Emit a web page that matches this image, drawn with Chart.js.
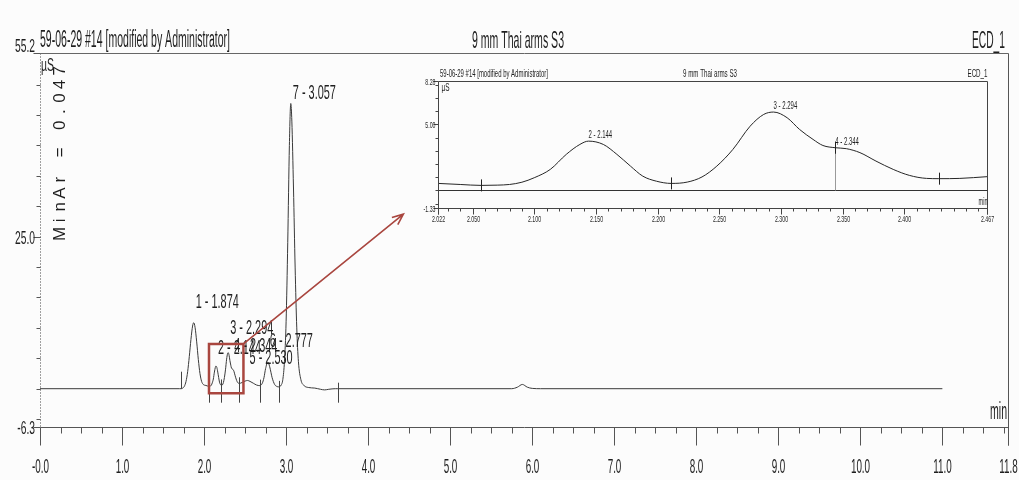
<!DOCTYPE html>
<html>
<head>
<meta charset="utf-8">
<script src="https://cdn.jsdelivr.net/npm/chart.js@4.4.1/dist/chart.umd.min.js"></script>
<style>
  html, body { margin: 0; padding: 0; background: #fcfcfc; }
  #wrap { position: relative; width: 1019px; height: 480px; overflow: hidden; }
  #overview { position: absolute; left: 0; top: 0; }
  #detail { position: absolute; left: 400px; top: 58px; }
</style>
</head>
<body>
<div id="wrap">
  <canvas id="overview" width="1019" height="480"></canvas>
  <canvas id="detail" width="610" height="172"></canvas>
</div>
<script>
// ---- chromatogram trace (retention time in min, conductivity in µS) ----
const retentionTime = [
  0.00, 1.70, 1.72, 1.74, 1.76, 1.78, 1.80, 1.82, 1.84, 1.86, 1.874, 1.89, 1.91, 1.93, 1.95, 1.97, 1.99, 2.005,
  2.022, 2.040, 2.057, 2.070, 2.080, 2.090, 2.100, 2.113, 2.126, 2.137, 2.144, 2.156, 2.167, 2.178, 2.188, 2.199,
  2.211, 2.224, 2.236, 2.248, 2.261, 2.275, 2.286, 2.294, 2.305, 2.315, 2.326, 2.334, 2.344, 2.353, 2.364, 2.377,
  2.391, 2.404, 2.418, 2.428, 2.445, 2.467, 2.50, 2.530, 2.56, 2.60, 2.64, 2.68, 2.71, 2.73, 2.75, 2.777, 2.80,
  2.83, 2.86, 2.89, 2.91, 2.94, 2.96, 2.98, 3.00, 3.02, 3.04, 3.057, 3.07, 3.09, 3.11, 3.13, 3.15, 3.18, 3.22,
  3.27, 3.35, 3.42, 3.47, 3.52, 3.60, 3.63, 5.75, 5.82, 5.88, 5.94, 6.00, 6.10, 11.0
];
const signal = [
  0.00, 0.00, 0.00, 0.10, 0.40, 1.20, 2.80, 5.30, 8.10, 10.3, 10.85, 10.1, 7.70, 4.80, 2.50, 1.20, 0.70, 0.58,
  0.53, 0.45, 0.38, 0.40, 0.45, 0.62, 0.96, 1.59, 2.73, 3.48, 3.73, 3.48, 2.73, 1.84, 1.08, 0.70,
  0.53, 0.63, 1.02, 1.84, 3.10, 4.86, 5.75, 5.93, 5.50, 4.62, 3.86, 3.40, 3.23, 3.16, 2.86, 2.22,
  1.59, 1.14, 0.91, 0.89, 0.91, 1.04, 1.25, 1.35, 1.20, 0.90, 0.60, 0.50, 0.90, 1.80, 3.30, 4.40, 3.60,
  1.80, 0.70, 0.35, 0.30, 0.60, 1.50, 4.50, 11.0, 24.0, 40.0, 46.9, 44.0, 33.0, 20.0, 10.0, 4.50, 1.50, 0.50,
  0.20, 0.10, -0.10, -0.20, -0.10, 0.00, 0.00, 0.00, 0.25, 0.70, 0.25, 0.05, 0.00, 0.00
];

// ---- integrated peaks ----
const peakNumbers = [1, 2, 3, 4, 5, 6, 7];
const peakTimes = [1.874, 2.144, 2.294, 2.344, 2.530, 2.777, 3.057];
const detailPeakNumbers = [2, 3, 4];

// ---- integration boundary markers ----
const startMarkTimes = [1.72];
const boundaryTimes = [2.057, 2.211, 2.428, 2.68, 2.91, 3.63];
const detailBoundaryTimes = [2.057, 2.211, 2.344, 2.428];

// ---- axes ----
const xMajorTicks = [0, 1, 2, 3, 4, 5, 6, 7, 8, 9, 10, 11, 11.8];
const xTickLabels = ['-0.0', '1.0', '2.0', '3.0', '4.0', '5.0', '6.0', '7.0', '8.0', '9.0', '10.0', '11.0', '11.8'];
const yLabelTicks = [55.2, 25.0, -6.3];
const yTickLabels = ['55.2', '25.0', '-6.3'];
const detailXTicks = [2.022, 2.050, 2.100, 2.150, 2.200, 2.250, 2.300, 2.350, 2.400, 2.467];
const detailXTickLabels = ['2.022', '2.050', '2.100', '2.150', '2.200', '2.250', '2.300', '2.350', '2.400', '2.467'];
const detailYTicks = [8.28, 5.00, -1.33];
const detailYTickLabels = ['8.28', '5.00', '-1.33'];

// ---- zoom window marked on the overview (min, min, µS, µS) and arrow target ----
const zoomWindow = [2.06, 2.48, -0.75, 7.35];
const arrowTarget = [4.43, 28.7];

// ---- header texts ----
const sampleInfo = '59-06-29 #14 [modified by Administrator]';
const sampleName = '9 mm Thai arms S3';
const channelName = 'ECD_1';
const minAreaText = 'MinAr = 0.047';

const FONT = '"Liberation Sans", Arial, sans-serif';
const INK = '#1e1e1e';
const AXIS = '#555';
const RED = '#a9463f';

function valueAt(t) {
  for (let i = 0; i < retentionTime.length - 1; i++) {
    const t0 = retentionTime[i], t1 = retentionTime[i + 1];
    if (t >= t0 && t <= t1) {
      const f = t1 === t0 ? 0 : (t - t0) / (t1 - t0);
      return signal[i] + f * (signal[i + 1] - signal[i]);
    }
  }
  return 0;
}

function narrowText(ctx, txt, x, y, size, sx, align, color) {
  ctx.save();
  ctx.font = size + 'px ' + FONT;
  ctx.fillStyle = color || INK;
  ctx.textBaseline = 'alphabetic';
  ctx.textAlign = align || 'left';
  ctx.translate(x, y);
  ctx.scale(sx, 1);
  ctx.fillText(txt, 0, 0);
  ctx.restore();
}
function fitText(ctx, txt, x, y, size, width, align, color) {
  ctx.save();
  ctx.font = size + 'px ' + FONT;
  const w = ctx.measureText(txt).width;
  ctx.restore();
  narrowText(ctx, txt, x, y, size, width / w, align, color);
}
function seg(ctx, x1, y1, x2, y2, color, width, dash) {
  ctx.save();
  ctx.strokeStyle = color;
  ctx.lineWidth = width || 1;
  if (dash) ctx.setLineDash(dash);
  ctx.beginPath();
  ctx.moveTo(x1, y1);
  ctx.lineTo(x2, y2);
  ctx.stroke();
  ctx.restore();
}
const r = v => Math.round(v) + 0.5;

const tracePoints = retentionTime.map((t, i) => ({ x: t, y: signal[i] }));

// ---------------- overview chromatogram ----------------
const overviewDecor = {
  id: 'overviewDecor',
  afterDraw(chart) {
    const ctx = chart.ctx, xs = chart.scales.x, ys = chart.scales.y, a = chart.chartArea;
    const L = r(a.left), R = r(a.right), T = r(a.top), B = r(a.bottom);

    // frame
    seg(ctx, L, T, R, T, '#666');
    seg(ctx, R, T, R, B + 18, '#555');
    seg(ctx, L, B, R, B, AXIS);
    seg(ctx, L, T, L, B + 18, '#444', 1, [1, 2]);

    // x ticks
    for (let k = 1; k < 48; k++) {
      if (k % 4 === 0) continue;
      const px = r(xs.getPixelForValue(k * 0.25));
      seg(ctx, px, B, px, B + 6, AXIS);
    }
    xMajorTicks.forEach((v, i) => {
      const px = r(xs.getPixelForValue(v));
      seg(ctx, px, B, px, B + 18, AXIS);
      narrowText(ctx, xTickLabels[i], px, 473, 21, 0.47, 'center');
    });

    // y ticks
    for (let v = -5; v <= 50; v += 5) {
      const py = r(ys.getPixelForValue(v));
      seg(ctx, L - 4, py, L, py, AXIS);
    }
    yLabelTicks.forEach((v, i) => {
      const py = r(ys.getPixelForValue(v));
      seg(ctx, L - 7, py, L, py, AXIS);
      const base = i === 0 ? py - 1.5 : py + 6.5;
      narrowText(ctx, yTickLabels[i], 35, base, 18, 0.57, 'right');
    });

    // header
    fitText(ctx, sampleInfo, 40, 47, 23, 190, 'left');
    fitText(ctx, sampleName, 518, 48, 24, 92, 'center');
    fitText(ctx, channelName, 1005, 48, 24, 33, 'right');
    fitText(ctx, 'µS', 41, 71, 18, 13, 'left');
    fitText(ctx, 'min', 1007, 419, 23, 17, 'right');

    // rotated minimum-area note, one glyph per slot
    ctx.save();
    ctx.font = '17px ' + FONT;
    ctx.fillStyle = INK;
    ctx.textAlign = 'center';
    ctx.textBaseline = 'middle';
    [...minAreaText].forEach((ch, i) => {
      ctx.save();
      ctx.translate(60, 234 - i * 13.6);
      ctx.rotate(-Math.PI / 2);
      ctx.fillText(ch, 0, 0);
      ctx.restore();
    });
    ctx.restore();

    // integration markers
    const y0 = ys.getPixelForValue(0);
    startMarkTimes.forEach(t => {
      const px = r(xs.getPixelForValue(t));
      seg(ctx, px, y0, px, y0 - 17, '#444');
    });
    boundaryTimes.forEach(t => {
      const px = r(xs.getPixelForValue(t));
      seg(ctx, px, ys.getPixelForValue(valueAt(t)) - 6, px, y0 + 14, '#444');
    });

    // peak labels
    const lift = [15, 12, 19, 17, 16, 15, 4];
    peakTimes.forEach((t, i) => {
      const px = xs.getPixelForValue(t) + 2;
      const py = ys.getPixelForValue(valueAt(t)) - lift[i];
      narrowText(ctx, peakNumbers[i] + ' - ' + t.toFixed(3), px, py, 21, 0.52, 'left');
    });

    // zoom window and pointer
    const bx0 = xs.getPixelForValue(zoomWindow[0]), bx1 = xs.getPixelForValue(zoomWindow[1]);
    const by0 = ys.getPixelForValue(zoomWindow[2]), by1 = ys.getPixelForValue(zoomWindow[3]);
    ctx.save();
    ctx.strokeStyle = RED;
    ctx.lineWidth = 2.5;
    ctx.strokeRect(bx0, by1, bx1 - bx0, by0 - by1);
    const tx = xs.getPixelForValue(arrowTarget[0]), ty = ys.getPixelForValue(arrowTarget[1]);
    ctx.lineWidth = 1.6;
    ctx.beginPath();
    ctx.moveTo(bx1, by1);
    ctx.lineTo(tx, ty);
    const ang = Math.atan2(ty - by1, tx - bx1);
    ctx.moveTo(tx - 12 * Math.cos(ang - 0.4), ty - 12 * Math.sin(ang - 0.4));
    ctx.lineTo(tx, ty);
    ctx.lineTo(tx - 12 * Math.cos(ang + 0.4), ty - 12 * Math.sin(ang + 0.4));
    ctx.stroke();
    ctx.restore();
  }
};

new Chart(document.getElementById('overview'), {
  type: 'line',
  data: {
    datasets: [{
      data: tracePoints,
      borderColor: '#3a3a3a',
      borderWidth: 1,
      pointRadius: 0,
      cubicInterpolationMode: 'monotone',
      fill: false
    }]
  },
  options: {
    responsive: false,
    devicePixelRatio: 1,
    animation: false,
    events: [],
    layout: { padding: { left: 40, right: 11, top: 53, bottom: 53 } },
    scales: {
      x: { type: 'linear', min: 0, max: 11.8, display: false },
      y: { type: 'linear', min: -6.3, max: 55.2, display: false }
    },
    plugins: { legend: { display: false }, tooltip: { enabled: false } }
  },
  plugins: [overviewDecor]
});

// ---------------- detail view of peaks 2-4 ----------------
const detailDecor = {
  id: 'detailDecor',
  afterDraw(chart) {
    const ctx = chart.ctx, xs = chart.scales.x, ys = chart.scales.y, a = chart.chartArea;
    const L = r(a.left), R = r(a.right), T = r(a.top), B = r(a.bottom);

    seg(ctx, L, T, R, T, '#444');
    seg(ctx, R, T, R, B + 6, '#444');
    seg(ctx, L, T, L, B + 6, '#444');
    seg(ctx, L, B, R, B, '#444');
    const z = r(ys.getPixelForValue(0));
    seg(ctx, L, z, R, z, '#333');

    // x ticks
    for (let k = 3; k <= 46; k++) {
      const px = r(xs.getPixelForValue(2 + k * 0.01));
      seg(ctx, px, B, px, B + 3, '#444');
    }
    detailXTicks.forEach((v, i) => {
      const px = r(xs.getPixelForValue(v));
      seg(ctx, px, B, px, B + 6, '#444');
      narrowText(ctx, detailXTickLabels[i], px, B + 13, 9, 0.58, 'center');
    });
    // y ticks
    for (let v = -1; v <= 8; v++) {
      const py = r(ys.getPixelForValue(v));
      seg(ctx, L - 3, py, L, py, '#444');
    }
    detailYTicks.forEach((v, i) => {
      const py = r(ys.getPixelForValue(v));
      seg(ctx, L - 5, py, L, py, '#444');
      narrowText(ctx, detailYTickLabels[i], L - 3, py + 3.5, 9, 0.58, 'right');
    });

    // header
    fitText(ctx, sampleInfo, 40, 19, 10, 108, 'left');
    fitText(ctx, sampleName, 310, 19, 10, 54, 'center');
    fitText(ctx, channelName, R, 19, 10, 20, 'right');
    fitText(ctx, 'µS', L + 3, 33, 10, 8, 'left');
    fitText(ctx, 'min', R, B - 4, 10, 9, 'right');

    // boundary markers
    detailBoundaryTimes.forEach(t => {
      const px = r(xs.getPixelForValue(t));
      const py = ys.getPixelForValue(valueAt(t));
      if (t === 2.344) seg(ctx, px, py, px, z, '#9a9a9a');
      seg(ctx, px, py - 6, px, py + 6, '#222');
    });

    // peak labels
    detailPeakNumbers.forEach(n => {
      const t = peakTimes[peakNumbers.indexOf(n)];
      const px = xs.getPixelForValue(t);
      const py = ys.getPixelForValue(valueAt(t)) - 3;
      narrowText(ctx, n + ' - ' + t.toFixed(3), px, py, 10, 0.6, 'left');
    });
  }
};

new Chart(document.getElementById('detail'), {
  type: 'line',
  data: {
    datasets: [{
      data: tracePoints,
      borderColor: '#262626',
      borderWidth: 1,
      pointRadius: 0,
      cubicInterpolationMode: 'monotone',
      fill: false
    }]
  },
  options: {
    responsive: false,
    devicePixelRatio: 1,
    animation: false,
    events: [],
    layout: { padding: { left: 38, right: 23, top: 23, bottom: 22 } },
    scales: {
      x: { type: 'linear', min: 2.022, max: 2.467, display: false },
      y: { type: 'linear', min: -1.33, max: 8.28, display: false }
    },
    plugins: { legend: { display: false }, tooltip: { enabled: false } }
  },
  plugins: [detailDecor]
});
</script>
</body>
</html>
